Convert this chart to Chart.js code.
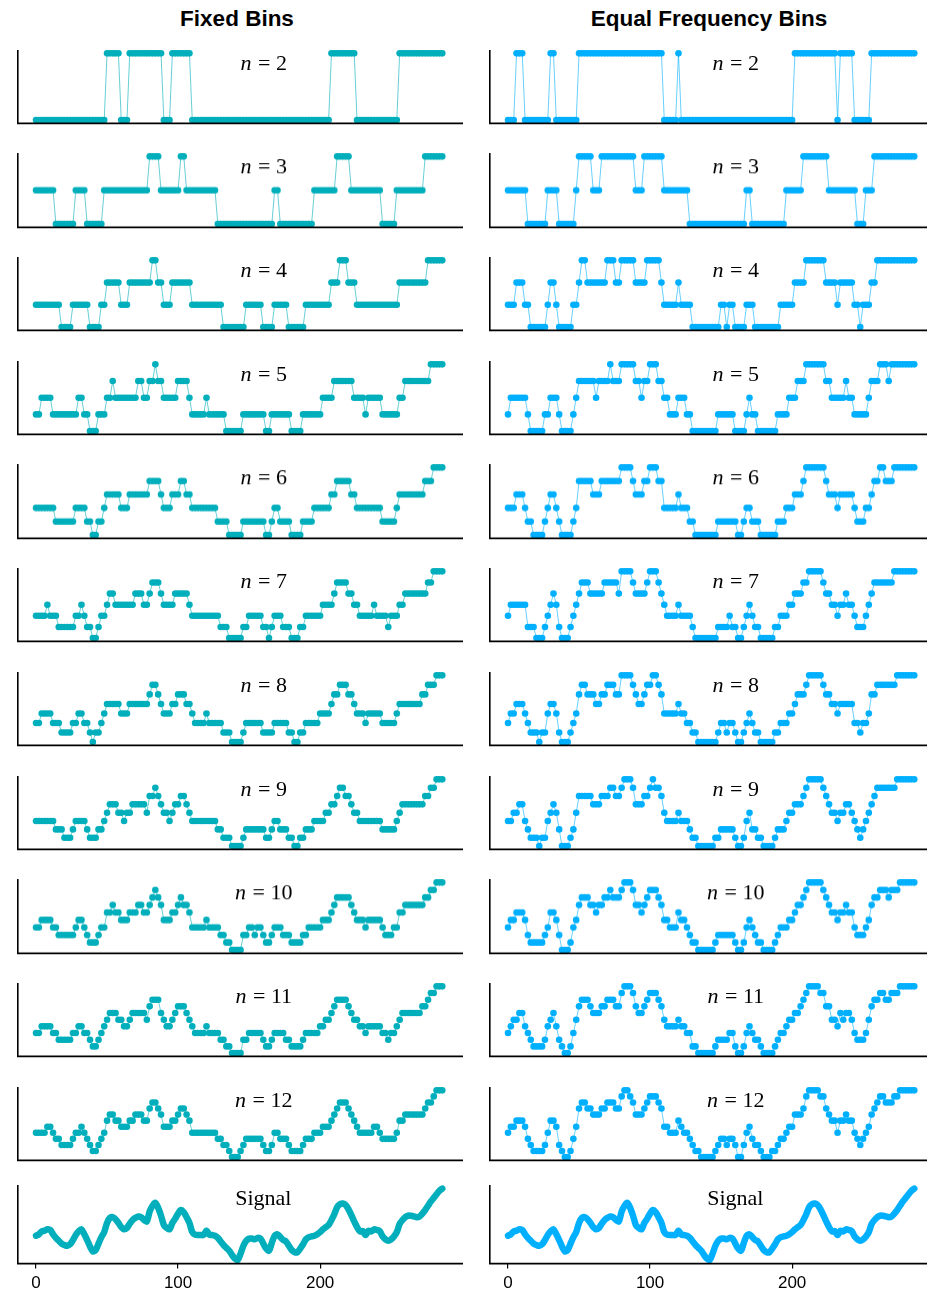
<!DOCTYPE html>
<html lang="en">
<head>
<meta charset="UTF-8">
<title>Fixed Bins vs Equal Frequency Bins</title>
<script src="https://cdn.jsdelivr.net/npm/chart.js@4.4.1/dist/chart.umd.min.js"></script>
<style>
  body { margin: 0; background: #fff; width: 927px; height: 1293px; position: relative; overflow: hidden; }
  .panel { position: absolute; }
  .title { position: absolute; font: bold 22.5px "Liberation Sans", Arial, sans-serif; line-height: 1;
           transform: translateX(-50%); white-space: nowrap; color: #000; }
</style>
</head>
<body>
<div class="title" style="left:237px;top:8px">Fixed Bins</div>
<div class="title" style="left:709px;top:8px">Equal Frequency Bins</div>

<script>
// signal, read every 2 samples (x = 0, 2, ..., 286)
const sampleStep = 2;
const signal = [
  34, 36, 40, 41, 43, 42, 36, 31, 27, 23, 21, 20, 22, 28, 35, 40.2, 43, 36, 28, 19,
  12, 14, 23, 32, 39, 52, 59, 60, 57, 52, 46, 43, 45, 51, 56, 59, 61, 60, 56, 54,
  68, 76, 80, 73, 62, 49, 45, 43, 52, 58, 65, 70, 67, 60, 52, 39, 35.5, 35, 35, 35,
  41, 35.5, 35, 34, 31, 26, 21, 17, 13, 7, 2, 0, 9, 20, 27, 30, 30, 29, 31, 30,
  23, 16, 13, 24, 34, 36, 32, 28, 26, 20, 14, 11, 11, 16, 22, 29, 32, 33, 34, 36,
  39, 43, 46, 49, 56, 64, 74, 78, 79, 77, 71, 63, 54, 46, 40, 40.5, 35, 41, 40, 43,
  42, 40.5, 33, 29, 27, 29, 33, 39, 50.5, 56, 60, 62, 62, 61, 60, 61, 65, 70, 76, 82,
  87, 92, 97, 100
];
const binCounts = [2, 3, 4, 5, 6, 7, 8, 9, 10, 11, 12];
const xTicks = [0, 100, 200];
const columns = ["Fixed Bins", "Equal Frequency Bins"];
const colors = ["#00AFBB", "#00B0FF"];
const lineColors = ["rgba(0,175,187,0.6)", "rgba(0,176,255,0.6)"];

const colLeft = [17, 489];
const panelW = 446;
const panelH = 80;
const firstAxisY = 123;
const rowPitch = 103.7;

function fixedBins(values, n) {
  const lo = Math.min(...values), hi = Math.max(...values);
  return values.map(v => Math.min(n - 1, Math.floor((v - lo) / (hi - lo) * n)));
}

function equalFreqBins(values, n) {
  const order = values.map((v, i) => i).sort((a, b) => values[a] - values[b]);
  const out = new Array(values.length);
  order.forEach((idx, rank) => { out[idx] = Math.floor(rank * n / values.length); });
  return out;
}

const spines = {
  id: "spines",
  afterDraw(chart) {
    const { ctx, chartArea: a } = chart;
    ctx.save();
    ctx.strokeStyle = "#000";
    ctx.lineWidth = 1.6;
    ctx.beginPath();
    ctx.moveTo(a.left + 0.8, a.top);
    ctx.lineTo(a.left + 0.8, a.bottom);
    ctx.lineTo(a.right, a.bottom);
    ctx.stroke();
    ctx.restore();
  }
};

const panelLabel = {
  id: "panelLabel",
  afterDatasetsDraw(chart, args, opts) {
    const { ctx, chartArea, scales } = chart;
    const cx = scales.x.getPixelForValue(160);
    const y = chartArea.top + opts.dy;
    ctx.save();
    ctx.fillStyle = "#000";
    ctx.textBaseline = "alphabetic";
    if (opts.n) {
      const fi = 'italic 22px "Liberation Serif", "Times New Roman", serif';
      const fr = '22px "Liberation Serif", "Times New Roman", serif';
      const rest = " = " + opts.n;
      ctx.font = fi; const w1 = ctx.measureText("n").width;
      ctx.font = fr; const w2 = ctx.measureText(rest).width;
      const x = cx - (w1 + w2) / 2;
      ctx.textAlign = "left";
      ctx.font = fi; ctx.fillText("n", x, y);
      ctx.font = fr; ctx.fillText(rest, x + w1 + 1, y);
    } else {
      ctx.font = '22px "Liberation Serif", "Times New Roman", serif';
      ctx.textAlign = "center";
      ctx.fillText(opts.text, cx, y);
    }
    ctx.restore();
  }
};

function makePanel(col, row, values, opts) {
  const div = document.createElement("div");
  div.className = "panel";
  const canvas = document.createElement("canvas");
  const isBottom = !!opts.bottom;
  const h0 = isBottom ? panelH + 34 : panelH;
  canvas.width = panelW; canvas.height = h0;
  div.appendChild(canvas);
  document.body.appendChild(div);

  const lo = Math.min(...values), hi = Math.max(...values);
  const pad = (hi - lo) * 0.05;
  const pts = values.map((v, i) => ({ x: i * sampleStep, y: v }));

  const ds = opts.signal ? {
    data: pts, borderColor: colors[col], borderWidth: 6.5, pointRadius: 0,
    borderCapStyle: "round", borderJoinStyle: "round", tension: 0.3, clip: false
  } : {
    data: pts, borderColor: lineColors[col], borderWidth: 1, pointRadius: 3.3,
    pointBackgroundColor: colors[col], pointBorderWidth: 0, tension: 0, clip: false
  };

  const chart = new Chart(canvas, {
    type: "line",
    data: { datasets: [ds] },
    options: {
      responsive: false, animation: false, events: [], devicePixelRatio: 1,
      layout: { padding: 0 },
      scales: {
        x: {
          type: "linear", min: -13.4, max: 300.6, display: isBottom,
          afterBuildTicks: s => { s.ticks = xTicks.map(v => ({ value: v })); },
          ticks: { color: "#000", padding: 5, maxRotation: 0,
                   font: { family: '"Liberation Sans", Arial, sans-serif', size: 17 } },
          grid: { display: true, drawOnChartArea: false, drawTicks: true, tickLength: 5,
                  color: "#000", lineWidth: 1.2 },
          border: { display: false }
        },
        y: { display: false, min: lo - pad, max: hi + pad }
      },
      plugins: {
        legend: { display: false }, tooltip: { enabled: false }, title: { display: false },
        panelLabel: opts.label
      }
    },
    plugins: [spines, panelLabel]
  });

  // make the plot area exactly panelW x panelH whatever room the axis takes
  for (let k = 0; k < 3; k++) {
    const a = chart.chartArea;
    const dw = panelW - (a.right - a.left), dh = panelH - (a.bottom - a.top);
    if (Math.abs(dw) < 0.5 && Math.abs(dh) < 0.5) break;
    chart.resize(chart.width + dw, chart.height + dh);
  }
  const a = chart.chartArea;
  const axisY = firstAxisY + row * rowPitch;
  div.style.left = (colLeft[col] - a.left) + "px";
  div.style.top = (axisY - a.bottom) + "px";
}

binCounts.forEach((n, r) => {
  makePanel(0, r, fixedBins(signal, n), { label: { n: n, dy: 20 } });
  makePanel(1, r, equalFreqBins(signal, n), { label: { n: n, dy: 20 } });
});
const last = binCounts.length;
makePanel(0, last, signal, { signal: true, bottom: true, label: { text: "Signal", dy: 20 } });
makePanel(1, last, signal, { signal: true, bottom: true, label: { text: "Signal", dy: 20 } });
</script>
</body>
</html>
